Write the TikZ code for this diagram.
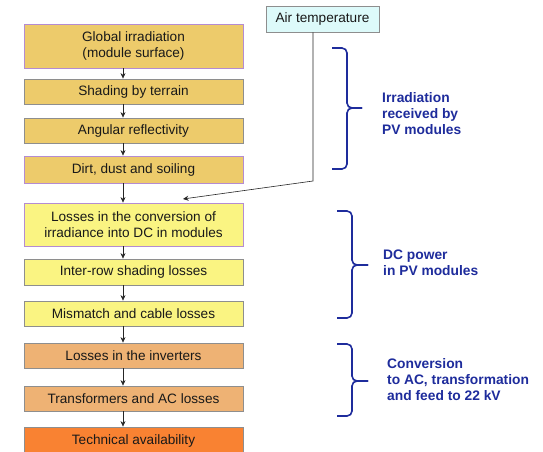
\documentclass[tikz,border=0pt]{standalone}
\usepackage{fontspec}
\setmainfont{Liberation Sans}
\usetikzlibrary{arrows.meta}
\definecolor{goldfill}{HTML}{EDCB6B}
\definecolor{yelfill}{HTML}{FAF482}
\definecolor{tanfill}{HTML}{EEB274}
\definecolor{orfill}{HTML}{F98232}
\definecolor{cyanfill}{HTML}{DDFAFA}
\definecolor{purpedge}{HTML}{B48CD2}
\definecolor{grayedge}{HTML}{8E8E8E}
\definecolor{bluetxt}{HTML}{1E2C9C}
\begin{document}
\begin{tikzpicture}[x=1pt,y=-1pt,
  box/.style={draw=grayedge, line width=0.8pt, minimum width=219pt, inner sep=0pt, align=center,
     font=\fontsize{13.6}{16}\selectfont, text=black!90},
  arr/.style={-{Stealth[length=5.5pt,width=5pt]}, line width=0.7pt, black!85},
  bracestyle/.style={draw=bluetxt, line width=1.6pt, rounded corners=5pt},
  bluelabel/.style={anchor=west, align=left, text=bluetxt, font=\bfseries\fontsize{13.8}{16}\selectfont, inner sep=0pt}]
\clip (0,0) rectangle (543,452);
\fill[white] (0,0) rectangle (543,452);
% left column
\node[box, fill=goldfill, draw=purpedge, minimum height=44pt] (b1) at (133.5,46) {Global irradiation\\(module surface)};
\node[box, fill=goldfill, minimum height=25pt] (b2) at (133.5,91.5) {Shading by terrain};
\node[box, fill=goldfill, minimum height=25pt] (b3) at (133.5,130.5) {Angular reflectivity};
\node[box, fill=goldfill, draw=purpedge, minimum height=27pt] (b4) at (133.5,169.5) {Dirt, dust and soiling};
\node[box, fill=yelfill, draw=purpedge, minimum height=43pt] (b5) at (133.5,224.5) {Losses in the conversion of\\irradiance into DC in modules};
\node[box, fill=yelfill, minimum height=26pt] (b6) at (133.5,272) {Inter-row shading losses};
\node[box, fill=yelfill, minimum height=25pt] (b7) at (133.5,313.5) {Mismatch and cable losses};
\node[box, fill=tanfill, minimum height=25pt] (b8) at (133.5,355.5) {Losses in the inverters};
\node[box, fill=tanfill, minimum height=25pt] (b9) at (133.5,398.5) {Transformers and AC losses};
\node[box, fill=orfill, minimum height=28pt] (b10) at (133.5,441) {Technical availability};
% arrows
\foreach \a/\b in {b1/b2,b2/b3,b3/b4,b4/b5,b5/b6,b6/b7,b7/b8,b8/b9,b9/b10}
  \draw[arr] ([xshift=-10.5pt]\a.south) -- ([xshift=-10.5pt]\b.north);
% air temperature
\node[box, fill=cyanfill, minimum width=113pt, minimum height=26pt] (air) at (322.5,19) {Air temperature};
\coordinate (bend) at (313,181);
\coordinate (airend) at (183,199);
\draw[arr, line width=0.6pt] ([xshift=-9.5pt]air.south) -- (bend) -- (airend);
% braces
\draw[bracestyle] (332,48) -- (347,48) -- (347,108) -- (362,108);
\draw[bracestyle] (332,169) -- (347,169) -- (347,108) -- (362,108);
\draw[bracestyle] (337,211) -- (352,211) -- (352,265) -- (368,265);
\draw[bracestyle] (337,318) -- (352,318) -- (352,265) -- (368,265);
\draw[bracestyle] (337,344) -- (352,344) -- (352,381) -- (368,381);
\draw[bracestyle] (337,416) -- (352,416) -- (352,381) -- (368,381);
% labels
\node[bluelabel] (l1) at (382,114) {Irradiation\\received by\\PV modules};
\node[bluelabel] (l2) at (383,263) {DC power\\in PV modules};
\node[bluelabel] (l3) at (387,380) {Conversion\\to AC, transformation\\and feed to 22 kV};
\end{tikzpicture}
\end{document}
